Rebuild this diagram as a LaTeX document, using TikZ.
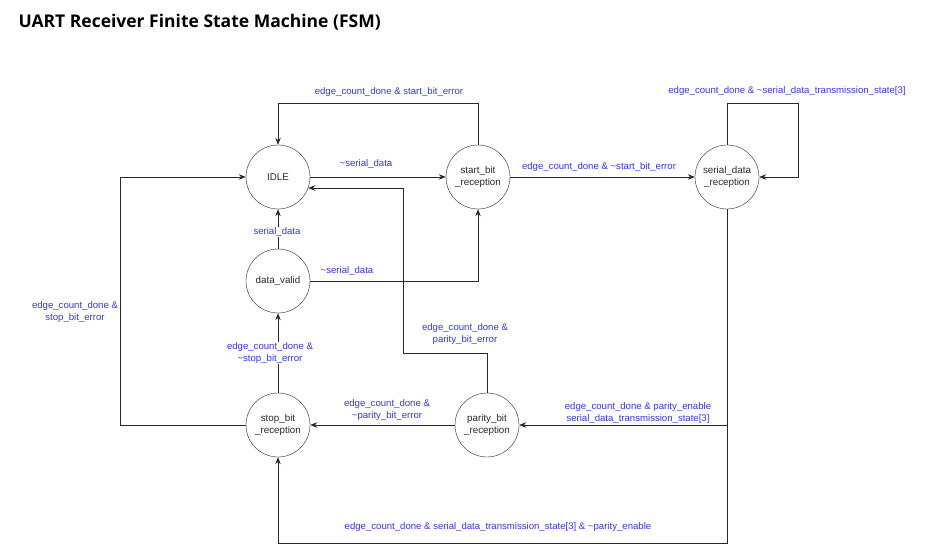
\documentclass[tikz,border=0pt]{standalone}
\usepackage{fontspec}
\setmainfont{Liberation Sans}
\newfontfamily\titlefont{Open Sans}
\usetikzlibrary{arrows.meta,calc}
\definecolor{lblue}{RGB}{51,51,255}
\definecolor{ink}{RGB}{40,40,40}
\begin{document}
\begin{tikzpicture}[x=1pt,y=-1pt,
  state/.style={draw=ink,circle,minimum size=64pt,inner sep=0pt,align=center,text=ink,
    font=\fontsize{9.8}{11.5}\selectfont},
  arr/.style={draw=ink,-{Stealth[length=7pt,width=5.5pt]},line width=0.6pt},
  lbl/.style={text=lblue,align=center,inner sep=1pt,font=\fontsize{9.6}{11.5}\selectfont},
  onln/.style={lbl,fill=white}]
\useasboundingbox (0,0) rectangle (927,556);
\node[anchor=west,font=\titlefont\bfseries\fontsize{17.5}{20}\selectfont] (title) at (15,22) {UART Receiver Finite State Machine (FSM)};
% states
\node[state] (idle) at (278,177) {IDLE};
\node[state] (start) at (478,177) {start\_bit\\\_reception};
\node[state] (serial) at (727,177) {serial\_data\\\_reception};
\node[state] (valid) at (278,281) {data\_valid};
\node[state] (stop) at (278,425) {stop\_bit\\\_reception};
\node[state] (parity) at (487,425) {parity\_bit\\\_reception};
\coordinate (pk) at (403,353);
\coordinate (loop) at (798,103);
% transitions
\draw[arr] (start.north) -- ++(0,-41) -| (idle.north);
\draw[arr] (idle.east) -- (start.west);
\draw[arr] (stop.west) -- ++(-126,0) |- (idle.west);
\draw[arr] (parity.north) |- (pk) |- (idle.-20);
\draw[arr] (valid.north) -- (idle.south);
\draw[arr] (valid.east) -| (start.south);
\draw[arr] (start.east) -- (serial.west);
\draw[arr] (serial.north) |- (loop) |- (serial.east);
\draw[arr] (serial.south) |- (parity.east);
\draw[arr] (serial.south) -- ++(0,334) -| (stop.south);
\draw[arr] (parity.west) -- (stop.east);
\draw[arr] (stop.north) -- (valid.south);
% labels
\node[lbl] (l1) at (389,92) {edge\_count\_done \& start\_bit\_error};
\node[lbl] (l2) at (366,164) {\textasciitilde serial\_data};
\node[lbl] (l3) at (599,167) {edge\_count\_done \& \textasciitilde start\_bit\_error};
\node[lbl] (l4) at (787,91) {edge\_count\_done \& \textasciitilde serial\_data\_transmission\_state[3]};
\node[onln] (l5) at (277,232) {serial\_data};
\node[lbl] (l6) at (347,271) {\textasciitilde serial\_data};
\node[lbl] (l7) at (75,312) {edge\_count\_done \&\\stop\_bit\_error};
\node[lbl] (l8) at (465,334) {edge\_count\_done \&\\parity\_bit\_error};
\node[onln] (l9) at (270,353) {edge\_count\_done \&\\\textasciitilde stop\_bit\_error};
\node[lbl] (l10) at (387,410) {edge\_count\_done \&\\\textasciitilde parity\_bit\_error};
\node[lbl] (l11) at (638,413) {edge\_count\_done \& parity\_enable\\serial\_data\_transmission\_state[3]};
\node[lbl] (l12) at (498,527) {edge\_count\_done \& serial\_data\_transmission\_state[3] \& \textasciitilde parity\_enable};
\end{tikzpicture}
\end{document}
